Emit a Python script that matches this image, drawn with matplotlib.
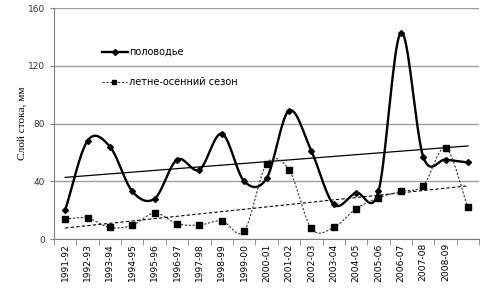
import numpy as np
import matplotlib.pyplot as plt

# годы (последняя категория без подписи)
years = ['1991-92', '1992-93', '1993-94', '1994-95', '1995-96', '1996-97',
         '1997-98', '1998-99', '1999-00', '2000-01', '2001-02', '2002-03',
         '2003-04', '2004-05', '2005-06', '2006-07', '2007-08', '2008-09', '']

# слой стока, мм
flood = [20, 68, 64, 33, 28, 55, 48, 73, 40, 42, 89, 61, 24, 32, 33, 143, 57, 55, 53]
summer_autumn = [14, 14.5, 8, 9.5, 18, 10.6, 9.7, 12.5, 5.5, 52, 48, 7.4, 8, 21, 28.6, 33, 37, 63, 22]


def smooth(x, y, n=20):
    # сглаживание как в Excel (Catmull-Rom)
    x = np.asarray(x, float)
    y = np.asarray(y, float)
    px = np.concatenate([[2 * x[0] - x[1]], x, [2 * x[-1] - x[-2]]])
    py = np.concatenate([[2 * y[0] - y[1]], y, [2 * y[-1] - y[-2]]])
    xs, ys = [], []
    t = np.linspace(0, 1, n)
    for i in range(1, len(px) - 2):
        for p, out in ((px, xs), (py, ys)):
            p0, p1, p2, p3 = p[i - 1], p[i], p[i + 1], p[i + 2]
            out.extend(0.5 * ((2 * p1) + (-p0 + p2) * t +
                              (2 * p0 - 5 * p1 + 4 * p2 - p3) * t ** 2 +
                              (-p0 + 3 * p1 - 3 * p2 + p3) * t ** 3))
    return np.array(xs), np.array(ys)


x = np.arange(1, len(years) + 1)

fig = plt.figure(figsize=(4.86, 2.92), dpi=100)
ax = fig.add_axes([0.111, 0.1815, 0.875, 0.791])

ax.set_ylim(0, 160)
ax.set_xlim(0.5, len(years) + 0.5)
ax.set_yticks([0, 40, 80, 120, 160])
ax.yaxis.grid(True, color='#a0a0a0', lw=1.0)
ax.set_axisbelow(True)

# половодье
sx, sy = smooth(x, flood)
ax.plot(sx, sy, color='black', lw=1.7, zorder=3)
ax.plot(x, flood, 'D', color='black', ms=3, zorder=4)

# летне-осенний сезон
sx2, sy2 = smooth(x, summer_autumn)
ax.plot(sx2, sy2, color='#333333', lw=0.8, ls=(0, (2, 1.5)), zorder=3)
ax.plot(x, summer_autumn, 's', color='black', ms=4.8, zorder=4)

# линейные тренды
k1 = np.polyfit(x, flood, 1)
ax.plot([x[0], x[-1]], np.polyval(k1, [x[0], x[-1]]), color='black', lw=0.9, zorder=2)
k2 = np.polyfit(x, summer_autumn, 1)
ax.plot([x[0], x[-1]], np.polyval(k2, [x[0], x[-1]]), color='black', lw=0.8,
        ls=(0, (3, 2)), zorder=2)

# легенда
ax.plot([2.65, 3.8], [129.5, 129.5], color='black', lw=1.7)
ax.plot([3.22], [129.5], 'D', color='black', ms=3)
ax.text(3.85, 129.5, 'половодье', fontsize=7, va='center', family='DejaVu Sans')
ax.plot([2.65, 3.75], [108.5, 108.5], color='#333333', lw=0.8, ls=(0, (2, 1.5)))
ax.plot([3.2], [108.5], 's', color='black', ms=3.5)
ax.text(3.85, 108.5, 'летне-осенний сезон', fontsize=7, va='center', family='DejaVu Sans')

ax.set_xticks(x)
ax.set_xticklabels(years, rotation=90, fontsize=6.6)
ax.set_xticks(np.arange(0.5, len(years) + 1), minor=True)
ax.tick_params(axis='x', which='major', length=0, pad=3)
ax.tick_params(axis='x', which='minor', length=4, color='#808080')
ax.tick_params(axis='y', labelsize=6.5, length=3, color='#808080', labelcolor='#333333')

ax.set_ylabel('Слой стока, мм', family='Liberation Serif', fontsize=8.2)
ax.yaxis.set_label_coords(-0.062, 0.5)

for s in ['top', 'right']:
    ax.spines[s].set_visible(False)
ax.spines['left'].set_color('#808080')
ax.spines['bottom'].set_color('#808080')

fig.savefig('out.png', dpi=100)
